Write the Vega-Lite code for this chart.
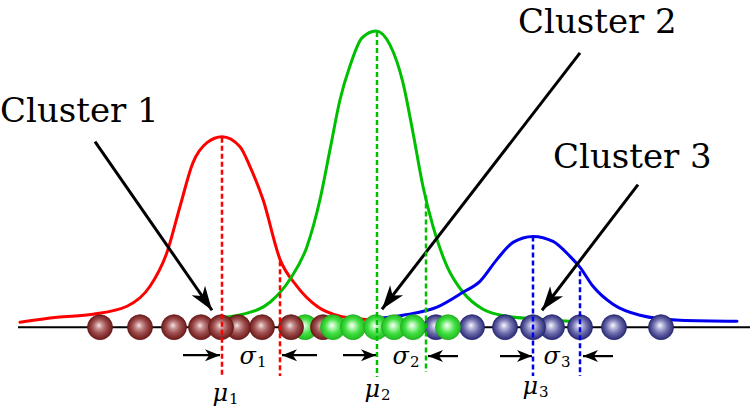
{
  "$schema": "https://vega.github.io/schema/vega-lite/v6.json",
  "width": 753,
  "height": 407,
  "padding": 0,
  "autosize": {"type": "fit", "contains": "padding"},
  "background": "white",
  "config": {"view": {"stroke": null}},
  "datasets": {
    "base": [{"x": 18, "x2": 750, "y": 0}],
    "curves": [
      {"c": "1", "x": 20, "y": 5}, {"c": "1", "x": 57, "y": 10}, {"c": "1", "x": 93, "y": 13}, {"c": "1", "x": 127, "y": 21},
      {"c": "1", "x": 150, "y": 41}, {"c": "1", "x": 167, "y": 75}, {"c": "1", "x": 180, "y": 121}, {"c": "1", "x": 193, "y": 165},
      {"c": "1", "x": 207, "y": 185}, {"c": "1", "x": 222, "y": 191}, {"c": "1", "x": 240, "y": 181}, {"c": "1", "x": 250, "y": 161},
      {"c": "1", "x": 263, "y": 128}, {"c": "1", "x": 280, "y": 68}, {"c": "1", "x": 297, "y": 41}, {"c": "1", "x": 317, "y": 21},
      {"c": "1", "x": 340, "y": 11}, {"c": "1", "x": 363, "y": 8}, {"c": "1", "x": 400, "y": 6},
      {"c": "2", "x": 215, "y": 9}, {"c": "2", "x": 243, "y": 13}, {"c": "2", "x": 270, "y": 25}, {"c": "2", "x": 290, "y": 48},
      {"c": "2", "x": 307, "y": 81}, {"c": "2", "x": 320, "y": 128}, {"c": "2", "x": 330, "y": 178}, {"c": "2", "x": 340, "y": 228},
      {"c": "2", "x": 350, "y": 262}, {"c": "2", "x": 362, "y": 290}, {"c": "2", "x": 376, "y": 297}, {"c": "2", "x": 390, "y": 283},
      {"c": "2", "x": 403, "y": 245}, {"c": "2", "x": 413, "y": 195}, {"c": "2", "x": 423, "y": 141}, {"c": "2", "x": 433, "y": 101},
      {"c": "2", "x": 447, "y": 61}, {"c": "2", "x": 463, "y": 35}, {"c": "2", "x": 483, "y": 18}, {"c": "2", "x": 507, "y": 11},
      {"c": "2", "x": 540, "y": 8}, {"c": "2", "x": 570, "y": 6},
      {"c": "3", "x": 370, "y": 8}, {"c": "3", "x": 403, "y": 12}, {"c": "3", "x": 437, "y": 20}, {"c": "3", "x": 463, "y": 35},
      {"c": "3", "x": 480, "y": 46}, {"c": "3", "x": 497, "y": 68}, {"c": "3", "x": 513, "y": 85}, {"c": "3", "x": 533, "y": 91},
      {"c": "3", "x": 553, "y": 86}, {"c": "3", "x": 570, "y": 71}, {"c": "3", "x": 580, "y": 60}, {"c": "3", "x": 593, "y": 41},
      {"c": "3", "x": 613, "y": 23}, {"c": "3", "x": 640, "y": 12}, {"c": "3", "x": 680, "y": 7}, {"c": "3", "x": 737, "y": 6}
    ],
    "dash": [
      {"c": "1", "x": 222, "y": 190, "y2": -50},
      {"c": "1", "x": 280, "y": 66, "y2": -49},
      {"c": "2", "x": 377, "y": 296, "y2": -50},
      {"c": "2", "x": 426, "y": 132, "y2": -45},
      {"c": "3", "x": 533, "y": 91, "y2": -49},
      {"c": "3", "x": 580, "y": 56, "y2": -49}
    ],
    "ballsG0": [{"x": 305, "y": 0}],
    "ballsR": [
      {"x": 100, "y": 0}, {"x": 140, "y": 0}, {"x": 174, "y": 0}, {"x": 201, "y": 0}, {"x": 238, "y": 0},
      {"x": 221, "y": 0}, {"x": 262, "y": 0}, {"x": 291, "y": 0}, {"x": 323, "y": 0}
    ],
    "ballsB": [
      {"x": 436, "y": 0}, {"x": 472, "y": 0}, {"x": 505, "y": 0}, {"x": 552, "y": 0}, {"x": 533, "y": 0},
      {"x": 580, "y": 0}, {"x": 614, "y": 0}, {"x": 661, "y": 0}
    ],
    "ballsG": [
      {"x": 333, "y": 0}, {"x": 353, "y": 0}, {"x": 376, "y": 0}, {"x": 394, "y": 0}, {"x": 413, "y": 0}, {"x": 448, "y": 0}
    ],
    "arrows": [
      {"k": "c1", "x": 95, "y": 186, "x2": 212, "y2": 17},
      {"k": "c23", "x": 580, "y": 275, "x2": 382, "y2": 18},
      {"k": "c23", "x": 638, "y": 143, "x2": 542, "y2": 17},
      {"k": "r", "x": 183, "y": -28, "x2": 220, "y2": -28},
      {"k": "r", "x": 343, "y": -28, "x2": 376, "y2": -28},
      {"k": "r", "x": 500, "y": -29, "x2": 532, "y2": -29},
      {"k": "l", "x": 317, "y": -28, "x2": 282, "y2": -28},
      {"k": "l", "x": 458, "y": -29, "x2": 428, "y2": -29},
      {"k": "l", "x": 613, "y": -29, "x2": 583, "y2": -29}
    ],
    "labels": [
      {"x": 0, "y": 206, "t": "Cluster 1"},
      {"x": 518, "y": 295, "t": "Cluster 2"},
      {"x": 553, "y": 160, "t": "Cluster 3"}
    ],
    "greek": [
      {"x": 256, "y": -37, "g": "σ", "s": "1"},
      {"x": 409, "y": -37, "g": "σ", "s": "2"},
      {"x": 560, "y": -37, "g": "σ", "s": "3"},
      {"x": 228, "y": -74, "g": "μ", "s": "1"},
      {"x": 380, "y": -70, "g": "μ", "s": "2"},
      {"x": 538, "y": -67, "g": "μ", "s": "3"}
    ]
  },
  "encoding": {
    "x": {"field": "x", "type": "quantitative", "scale": {"domain": [0, 753], "nice": false, "zero": false}, "axis": null},
    "y": {"field": "y", "type": "quantitative", "scale": {"domain": [-79, 328], "nice": false, "zero": false}, "axis": null}
  },
  "layer": [
    {
      "data": {"name": "base"},
      "mark": {"type": "rule", "stroke": "black", "strokeWidth": 2},
      "encoding": {"x2": {"field": "x2"}}
    },
    {
      "data": {"name": "curves"},
      "mark": {"type": "line", "interpolate": "monotone", "strokeWidth": 3, "strokeCap": "round"},
      "encoding": {
        "color": {"field": "c", "type": "nominal", "scale": {"domain": ["1", "2", "3"], "range": ["#ff0000", "#00bf00", "#0000ee"]}, "legend": null}
      }
    },
    {
      "data": {"name": "arrows"},
      "transform": [{"filter": "datum.k == 'c1' || datum.k == 'c23'"}],
      "mark": {"type": "rule", "stroke": "black", "strokeWidth": 3},
      "encoding": {"x2": {"field": "x2"}, "y2": {"field": "y2"}}
    },
    {
      "data": {"name": "arrows"},
      "transform": [{"filter": "datum.k == 'c1'"}],
      "mark": {"type": "point", "shape": "M0,0 L-1,-0.34 L-0.72,0 L-1,0.34 Z", "filled": true, "fill": "black", "opacity": 1, "size": 2304, "angle": 55.3, "strokeWidth": 0},
      "encoding": {
        "x": {"field": "x2", "type": "quantitative", "scale": {"domain": [0, 753], "nice": false, "zero": false}, "axis": null},
        "y": {"field": "y2", "type": "quantitative", "scale": {"domain": [-79, 328], "nice": false, "zero": false}, "axis": null}
      }
    },
    {
      "data": {"name": "arrows"},
      "transform": [{"filter": "datum.k == 'c23'"}],
      "mark": {"type": "point", "shape": "M0,0 L-1,-0.34 L-0.72,0 L-1,0.34 Z", "filled": true, "fill": "black", "opacity": 1, "size": 2304, "angle": 127.5, "strokeWidth": 0},
      "encoding": {
        "x": {"field": "x2", "type": "quantitative", "scale": {"domain": [0, 753], "nice": false, "zero": false}, "axis": null},
        "y": {"field": "y2", "type": "quantitative", "scale": {"domain": [-79, 328], "nice": false, "zero": false}, "axis": null}
      }
    },
    {
      "data": {"name": "ballsG0"},
      "mark": {"type": "point", "shape": "circle", "size": 625, "filled": true, "opacity": 1, "stroke": "#1fa81f", "strokeWidth": 0.7,
        "fill": {"gradient": "radial", "x1": 0.45, "y1": 0.42, "r1": 0, "x2": 0.5, "y2": 0.5, "r2": 0.5,
          "stops": [{"offset": 0, "color": "#ffffff"}, {"offset": 0.25, "color": "#b0f5b0"}, {"offset": 0.6, "color": "#40e040"}, {"offset": 1, "color": "#22bb22"}]}}
    },
    {
      "data": {"name": "ballsR"},
      "mark": {"type": "point", "shape": "circle", "size": 625, "filled": true, "opacity": 1, "stroke": "#5e1515", "strokeWidth": 0.7,
        "fill": {"gradient": "radial", "x1": 0.45, "y1": 0.42, "r1": 0, "x2": 0.5, "y2": 0.5, "r2": 0.5,
          "stops": [{"offset": 0, "color": "#f8eeee"}, {"offset": 0.25, "color": "#c99595"}, {"offset": 0.6, "color": "#9c4a4a"}, {"offset": 1, "color": "#6e1a1a"}]}}
    },
    {
      "data": {"name": "ballsB"},
      "mark": {"type": "point", "shape": "circle", "size": 625, "filled": true, "opacity": 1, "stroke": "#20206a", "strokeWidth": 0.7,
        "fill": {"gradient": "radial", "x1": 0.45, "y1": 0.42, "r1": 0, "x2": 0.5, "y2": 0.5, "r2": 0.5,
          "stops": [{"offset": 0, "color": "#ffffff"}, {"offset": 0.25, "color": "#b8b8dd"}, {"offset": 0.6, "color": "#6a6aaa"}, {"offset": 1, "color": "#2c2c78"}]}}
    },
    {
      "data": {"name": "ballsG"},
      "mark": {"type": "point", "shape": "circle", "size": 625, "filled": true, "opacity": 1, "stroke": "#1fa81f", "strokeWidth": 0.7,
        "fill": {"gradient": "radial", "x1": 0.45, "y1": 0.42, "r1": 0, "x2": 0.5, "y2": 0.5, "r2": 0.5,
          "stops": [{"offset": 0, "color": "#ffffff"}, {"offset": 0.25, "color": "#b0f5b0"}, {"offset": 0.6, "color": "#40e040"}, {"offset": 1, "color": "#22bb22"}]}}
    },
    {
      "data": {"name": "dash"},
      "mark": {"type": "rule", "strokeWidth": 2.5, "strokeDash": [5, 3]},
      "encoding": {
        "y2": {"field": "y2"},
        "color": {"field": "c", "type": "nominal", "scale": {"domain": ["1", "2", "3"], "range": ["#ff0000", "#00bf00", "#0000ee"]}, "legend": null}
      }
    },
    {
      "data": {"name": "arrows"},
      "transform": [{"filter": "datum.k == 'r' || datum.k == 'l'"}],
      "mark": {"type": "rule", "stroke": "black", "strokeWidth": 2.2},
      "encoding": {"x2": {"field": "x2"}, "y2": {"field": "y2"}}
    },
    {
      "data": {"name": "arrows"},
      "transform": [{"filter": "datum.k == 'r'"}],
      "mark": {"type": "point", "shape": "M0,0 L-1,-0.4 L-0.72,0 L-1,0.4 Z", "filled": true, "fill": "black", "opacity": 1, "size": 900, "angle": 0, "strokeWidth": 0},
      "encoding": {
        "x": {"field": "x2", "type": "quantitative", "scale": {"domain": [0, 753], "nice": false, "zero": false}, "axis": null},
        "y": {"field": "y2", "type": "quantitative", "scale": {"domain": [-79, 328], "nice": false, "zero": false}, "axis": null}
      }
    },
    {
      "data": {"name": "arrows"},
      "transform": [{"filter": "datum.k == 'l'"}],
      "mark": {"type": "point", "shape": "M0,0 L-1,-0.4 L-0.72,0 L-1,0.4 Z", "filled": true, "fill": "black", "opacity": 1, "size": 900, "angle": 180, "strokeWidth": 0},
      "encoding": {
        "x": {"field": "x2", "type": "quantitative", "scale": {"domain": [0, 753], "nice": false, "zero": false}, "axis": null},
        "y": {"field": "y2", "type": "quantitative", "scale": {"domain": [-79, 328], "nice": false, "zero": false}, "axis": null}
      }
    },
    {
      "data": {"name": "labels"},
      "mark": {"type": "text", "font": "DejaVu Serif", "fontSize": 34, "align": "left", "baseline": "alphabetic", "color": "black"},
      "encoding": {"text": {"field": "t"}}
    },
    {
      "data": {"name": "greek"},
      "mark": {"type": "text", "font": "DejaVu Serif", "fontStyle": "italic", "fontSize": 24, "align": "right", "baseline": "alphabetic", "color": "black"},
      "encoding": {"text": {"field": "g"}}
    },
    {
      "data": {"name": "greek"},
      "mark": {"type": "text", "font": "DejaVu Serif", "fontSize": 15, "align": "left", "baseline": "alphabetic", "dx": 1, "dy": 3, "color": "black"},
      "encoding": {"text": {"field": "s"}}
    }
  ]
}
